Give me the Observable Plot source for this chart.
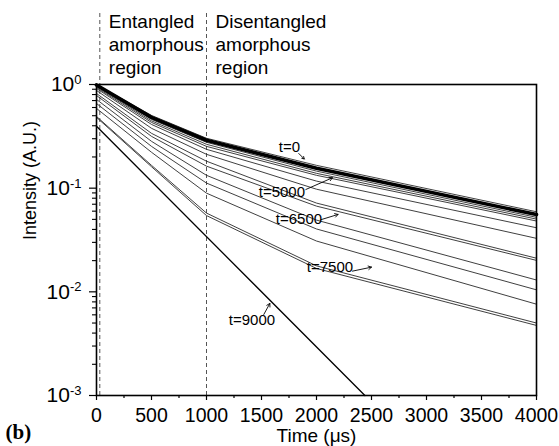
<!DOCTYPE html>
<html><head><meta charset="utf-8">
<script src="https://cdn.jsdelivr.net/npm/d3@7"></script>
<script src="https://cdn.jsdelivr.net/npm/@observablehq/plot@0.6"></script>
<style>body{margin:0;background:#fff}</style>
</head><body><div id="chart"></div>
<script>
// ---- data ----
const timeX = [0, 500, 1000, 2000, 4000];          // Time (µs) sample points
const s01 = [1.0,   0.503, 0.303,  0.166,  0.0592];
const s02 = [0.989, 0.482, 0.290,  0.156,  0.0556];   // dense band (drawn thick)
const s03 = [0.978, 0.461, 0.277,  0.146,  0.0523];
const s04 = [0.957, 0.446, 0.265,  0.139,  0.0503];
const s05 = [0.936, 0.431, 0.253,  0.133,  0.0482];
const s06 = [0.915, 0.412, 0.237,  0.117,  0.0415];
const s07 = [0.876, 0.378, 0.212,  0.0977, 0.0328];
const s08 = [0.819, 0.338, 0.182,  0.0718, 0.0211];
const s09 = [0.784, 0.316, 0.163,  0.0671, 0.0201];
const s10 = [0.718, 0.283, 0.133,  0.0492, 0.0130];
const s11 = [0.656, 0.253, 0.112,  0.0404, 0.01045];
const s12 = [0.588, 0.222, 0.0895, 0.0309, 0.0076];
const s13 = [0.492, 0.166, 0.0575, 0.0178, 0.0050];
const s14 = [0.482, 0.161, 0.0544, 0.0168, 0.00474];
const time9000 = [0, 2440];
const s9000 = [0.395, 0.001];

const xTicks = [0, 500, 1000, 1500, 2000, 2500, 3000, 3500, 4000];
const xMinor = [250, 750, 1250, 1750, 2250, 2750, 3250, 3750];
const yTicks = [1, 0.1, 0.01, 0.001];
const yMinor = [0.9,0.8,0.7,0.6,0.5,0.4,0.3,0.2, 0.09,0.08,0.07,0.06,0.05,0.04,0.03,0.02,
                0.009,0.008,0.007,0.006,0.005,0.004,0.003,0.002];

const boundaryX = [30, 1000];
const regionText = ["Entangled\namorphous\nregion", "Disentangled\namorphous\nregion"];

const labelText = ["t=0", "t=5000", "t=6500", "t=7500", "t=9000"];
const labelX  = [1657, 1475, 1630, 1912, 1203];
const labelY  = [0.222, 0.0813, 0.0452, 0.01538, 0.00474];
const arrowX1 = [1839, 1903, 2039, 2327, 1521];
const arrowY1 = [0.216, 0.0971, 0.0496, 0.01584, 0.00605];
const arrowX2 = [1889, 2145, 2196, 2500, 1576];
const arrowY2 = [0.191, 0.126, 0.0558, 0.0173, 0.00773];

// ---- build tables ----
const thin = [s01, s03, s04, s05, s06, s07, s08, s09, s10, s11, s12, s13, s14];
const thinRows = thin.flatMap((s, k) => s.map((v, i) => ({k, x: timeX[i], y: v})));
const thickRows = s02.map((v, i) => ({x: timeX[i], y: v}));
const rows9000 = s9000.map((v, i) => ({x: time9000[i], y: v}));
const idx = labelText.map((_, i) => i);

const font = "'Liberation Sans', Arial, Helvetica, sans-serif";

const svg = Plot.plot({
  width: 559, height: 446,
  marginLeft: 96, marginRight: 23, marginTop: 84, marginBottom: 51,
  style: {fontFamily: font, color: "#000", background: "#fff", overflow: "visible"},
  x: {domain: [0, 4000], axis: null},
  y: {type: "log", domain: [0.001, 1], axis: null},
  marks: [
    Plot.ruleX(boundaryX, {stroke: "#555", strokeDasharray: "4,3", strokeWidth: 1, insetTop: -71}),
    Plot.line(thinRows, {x: "x", y: "y", z: "k", stroke: "#2a2a2a", strokeWidth: 0.9}),
    Plot.line(thickRows, {x: "x", y: "y", stroke: "#000", strokeWidth: 3.6}),
    Plot.line(rows9000, {x: "x", y: "y", stroke: "#000", strokeWidth: 1.3}),
    Plot.axisX({ticks: xMinor, tickSize: 3, tickFormat: () => "", label: null, strokeWidth: 1.2}),
    Plot.axisX({ticks: xTicks, tickSize: 5, tickPadding: 8, fontSize: 19.5, label: null, strokeWidth: 1.2,
                tickFormat: d => String(d)}),
    Plot.axisY({ticks: yMinor, tickSize: 4, tickFormat: () => "", label: null, strokeWidth: 1.1}),
    Plot.axisY({ticks: yTicks, tickSize: 7, tickPadding: 8, fontSize: 21, label: null, strokeWidth: 1.2,
                tickFormat: d => String(Math.round(Math.log10(d)))}),
    Plot.frame({stroke: "#000", strokeWidth: 1.6}),
    Plot.text(regionText, {x: (d, i) => boundaryX[i], frameAnchor: "top", dx: 9, dy: -11,
      textAnchor: "start", lineAnchor: "bottom", lineHeight: 1.2, fontSize: 19, fill: "#000"}),
    Plot.text(idx, {x: i => labelX[i], y: i => labelY[i], text: i => labelText[i],
      textAnchor: "start", lineAnchor: "bottom", fontSize: 15, fill: "#000"}),
    Plot.arrow(idx, {x1: i => arrowX1[i], y1: i => arrowY1[i], x2: i => arrowX2[i], y2: i => arrowY2[i],
      stroke: "#000", strokeWidth: 0.9, headLength: 6}),
    Plot.text(["Time (\u03bcs)"], {frameAnchor: "bottom", dy: 46, lineAnchor: "bottom", fontSize: 19, fill: "#000"}),
    Plot.text(["Intensity (A.U.)"], {frameAnchor: "left", dx: -61, rotate: -90, lineAnchor: "bottom", fontSize: 18, fill: "#000"}),
    Plot.text(["(b)"], {frameAnchor: "bottom-left", dx: -91, dy: 43, textAnchor: "start", lineAnchor: "bottom",
      fontSize: 21, fontWeight: "bold", fontFamily: "'Liberation Serif', 'Times New Roman', serif", fill: "#000"})
  ]
});

// superscript exponents on the y tick labels ("10" + exponent)
const ns = "http://www.w3.org/2000/svg";
svg.querySelectorAll('g[aria-label="y-axis tick label"] text').forEach(t => {
  const e = t.textContent;
  if (!e) return;
  t.textContent = "";
  const a = document.createElementNS(ns, "tspan"); a.textContent = "10"; t.appendChild(a);
  const b = document.createElementNS(ns, "tspan"); b.textContent = e;
  b.setAttribute("dy", "-0.55em"); b.setAttribute("font-size", "13"); t.appendChild(b);
});
document.getElementById("chart").appendChild(svg);
</script>
</body></html>
